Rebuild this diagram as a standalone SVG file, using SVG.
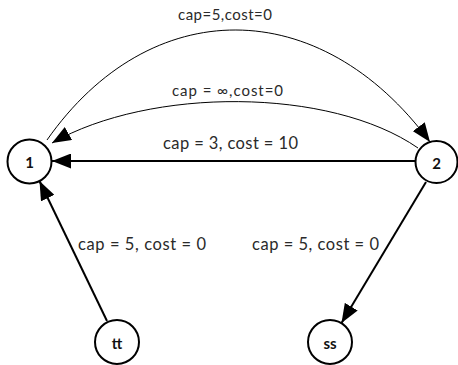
<svg xmlns="http://www.w3.org/2000/svg" width="458" height="365" viewBox="0 0 458 365">
<style>
.node circle{fill:#fff;stroke:#000;stroke-width:2}
.node text{font-family:Lato,"Liberation Sans",sans-serif;font-weight:bold;font-size:15px;fill:#111;text-anchor:middle;dominant-baseline:central}
.thick{fill:none;stroke:#000;stroke-width:2}
.thin{fill:none;stroke:#000;stroke-width:1}
.lbl{font-family:Lato,"Liberation Sans",sans-serif;font-size:15px;fill:#2a2a2a;text-anchor:middle}
.big{font-size:16.5px}
</style>
<defs>
<marker id="ah" viewBox="0 0 19 15" refX="19" refY="7.5" markerWidth="19" markerHeight="15" markerUnits="userSpaceOnUse" orient="auto">
<path d="M0,0 L19,7.5 L0,15 z" fill="#000"/>
</marker>
</defs>
<rect width="458" height="365" fill="#fff"/>
<g id="connectors">
<path class="thin" d="M47,140 C150,-7 320,-7 430,142" marker-end="url(#ah)"/>
<path class="thin" d="M418,148 C330,87 150,87 52,143" marker-end="url(#ah)"/>
<path class="thick" d="M415,161 L52,161" marker-end="url(#ah)"/>
<path class="thick" d="M107,321 L39.5,181" marker-end="url(#ah)"/>
<path class="thick" d="M426,182 L341.5,323" marker-end="url(#ah)"/>
<text class="lbl" x="225" y="20" textLength="94" lengthAdjust="spacing">cap=5,cost=0</text>
<text class="lbl" x="227.5" y="96" textLength="111" lengthAdjust="spacing">cap = ∞,cost=0</text>
<text class="lbl big" x="230.5" y="149" textLength="135" lengthAdjust="spacing">cap = 3, cost = 10</text>
<text class="lbl big" x="142" y="250" textLength="128" lengthAdjust="spacing">cap = 5, cost = 0</text>
<text class="lbl big" x="315.5" y="250" textLength="127" lengthAdjust="spacing">cap = 5, cost = 0</text>
</g>
<g id="n1" class="node"><circle cx="29.5" cy="161.5" r="22"/><text x="29.5" y="162">1</text></g>
<g id="n2" class="node"><circle cx="436.5" cy="162" r="21"/><text x="436.5" y="163">2</text></g>
<g id="ntt" class="node"><circle cx="117" cy="342" r="22"/><text x="117" y="343">tt</text></g>
<g id="nss" class="node"><circle cx="330" cy="342" r="22"/><text x="330" y="343">ss</text></g>
</svg>
